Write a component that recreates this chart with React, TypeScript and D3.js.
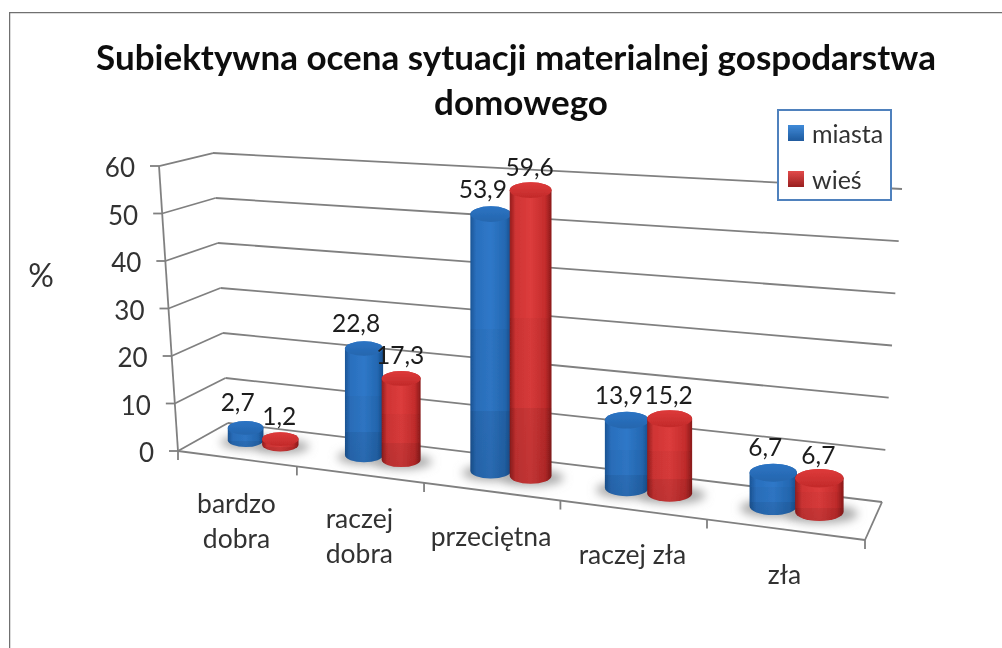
import React from 'react';
import * as d3 from 'd3';

const categories = [['bardzo', 'dobra'], ['raczej', 'dobra'], ['przeciętna'], ['raczej zła'], ['zła']];
const miasta = [2.7, 22.8, 53.9, 13.9, 6.7];
const wies = [1.2, 17.3, 59.6, 15.2, 6.7];
const yTicks = [0, 10, 20, 30, 40, 50, 60];
const titleLines = ['Subiektywna ocena sytuacji materialnej gospodarstwa', 'domowego'];

const seriesList = [
  { name: 'miasta', values: miasta, key: 'blue', du: -0.15, labelDx: -8, labelDy: -26 },
  { name: 'wieś', values: wies, key: 'red', du: 0.15, labelDx: -1, labelDy: -24 }
];

const font = 'Lato, "Open Sans", sans-serif';
const gridColor = '#808080';

// perspective along the category axis: later categories get wider
const xNorm = d3.scaleLinear().domain([0, categories.length]).range([0, 1]);
const depth = (u: number) => {
  const x = xNorm(u);
  return (x * (1 - 0.163)) / (1 - 0.163 * x);
};

// floor edges
const frontX = d3.scaleLinear().domain([0, 1]).range([178, 865]);
const frontY = d3.scaleLinear().domain([0, 1]).range([451, 540]);
const backX = d3.scaleLinear().domain([0, 1]).range([228, 882]);
const backY = d3.scaleLinear().domain([0, 1]).range([423, 502]);

// value axis on the three wall edges
const axisX = d3.scaleLinear().domain([0, 60]).range([178, 159]);
const axisY = d3.scaleLinear().domain([0, 60]).range([451, 166]);
const wallLeftX = d3.scaleLinear().domain([0, 60]).range([228, 213]);
const wallLeftY = d3.scaleLinear().domain([0, 60]).range([423, 153]);
const wallRightX = d3.scaleLinear().domain([0, 60]).range([882, 902]);
const wallRightY = d3.scaleLinear().domain([0, 60]).range([502, 189]);

// pixels per unit of value, along the wall
const unit = d3.scaleLinear().domain([0, 1]).range([4.55, 5.05]);

const floorPoint = (u: number, v: number) => {
  const t = depth(u);
  return [
    d3.interpolateNumber(frontX(t), backX(t))(v),
    d3.interpolateNumber(frontY(t), backY(t))(v)
  ];
};

const sideStops = {
  blue: ['#1b5596', '#2a6fbd', '#2f78c8', '#2468b2', '#174c8a'],
  red: ['#931d1d', '#cf3434', '#dc3c3c', '#c42c2c', '#8a1a1a']
};
const topStops = {
  blue: ['#2c74c4', '#2566ae'],
  red: ['#de3a3a', '#c22a2a']
};

function Cylinder({ series, i }: any) {
  const u = i + 0.5 + series.du;
  const [cx, by] = floorPoint(u, 0.56);
  const [xEdge] = floorPoint(u + 0.155, 0.56);
  const r = xEdge - cx;
  const ry = r * 0.38;
  const top = by - series.values[i] * unit(depth(u));
  const side = `M${cx - r},${top}L${cx - r},${by}A${r},${ry} 0 0 0 ${cx + r},${by}L${cx + r},${top}A${r},${ry} 0 0 0 ${cx - r},${top}Z`;
  return (
    <g>
      <path d={side} fill={`url(#side-${series.key})`} />
      <path d={side} fill="url(#bands)" />
      <ellipse cx={cx} cy={top} rx={r} ry={ry} fill={`url(#top-${series.key})`} />
      <text
        x={cx + series.labelDx}
        y={top + series.labelDy}
        textAnchor="middle"
        dominantBaseline="central"
        fontSize={24.5}
        fill="#1c1c1c"
      >
        {d3.format('.1f')(series.values[i]).replace('.', ',')}
      </text>
    </g>
  );
}

function Shadow({ series, i }: any) {
  const u = i + 0.5 + series.du;
  const [cx, by] = floorPoint(u, 0.56);
  const [xEdge] = floorPoint(u + 0.145, 0.56);
  const r = xEdge - cx;
  return <ellipse cx={cx + r * 0.1} cy={by + 2} rx={r * 1.6} ry={r * 0.42} fill="#aaa" filter="url(#soft)" />;
}

export default function App() {
  const cats = d3.range(categories.length + 1);
  const floor = [0, categories.length].map(u => floorPoint(u, 0));
  const floorBack = [0, categories.length].map(u => floorPoint(u, 1));

  return (
    <svg
      width={1002}
      height={648}
      style={{ position: 'absolute', left: 0, top: 0, background: '#fff' }}
      fontFamily={font}
    >
      <defs>
        {seriesList.map(s => (
          <React.Fragment key={s.key}>
            <linearGradient id={`side-${s.key}`} x1="0" x2="1" y1="0" y2="0">
              {sideStops[s.key].map((c, k) => (
                <stop key={k} offset={[0, 0.14, 0.5, 0.85, 1][k]} stopColor={c} />
              ))}
            </linearGradient>
            <linearGradient id={`top-${s.key}`} x1="0" x2="0" y1="0" y2="1">
              {topStops[s.key].map((c, k) => (
                <stop key={k} offset={k} stopColor={c} />
              ))}
            </linearGradient>
            <linearGradient id={`swatch-${s.key}`} x1="0" x2="0" y1="0" y2="1">
              <stop offset="0" stopColor={s.key === 'blue' ? '#3f8ad8' : '#e24a4a'} />
              <stop offset="1" stopColor={s.key === 'blue' ? '#1f5a9e' : '#992020'} />
            </linearGradient>
          </React.Fragment>
        ))}
        <linearGradient id="bands" x1="0" x2="0" y1="0" y2="1">
          <stop offset="0" stopColor="#000" stopOpacity="0" />
          <stop offset="0.45" stopColor="#000" stopOpacity="0" />
          <stop offset="0.45" stopColor="#000" stopOpacity="0.03" />
          <stop offset="0.75" stopColor="#000" stopOpacity="0.03" />
          <stop offset="0.75" stopColor="#000" stopOpacity="0.09" />
          <stop offset="1" stopColor="#000" stopOpacity="0.12" />
        </linearGradient>
        <filter id="soft" x="-50%" y="-100%" width="200%" height="300%">
          <feGaussianBlur stdDeviation="5" />
        </filter>
        <filter id="scan" x="0" y="0" width="100%" height="100%">
          <feGaussianBlur stdDeviation="0.45" />
        </filter>
      </defs>

      <g filter="url(#scan)">
        {/* outer frame */}
        <path d="M1002,12H9V648" fill="none" stroke="#6f6f6f" strokeWidth={2.5} />

        {titleLines.map((line, i) => (
          <text key={line} x={i === 0 ? 516 : 521} y={70 + i * 45} textAnchor="middle" fontSize={35} fontWeight={700} fill="#111">
            {line}
          </text>
        ))}

        <text x={41} y={274} textAnchor="middle" dominantBaseline="central" fontSize={32} fill="#333">%</text>

        {/* walls */}
        <g stroke={gridColor} strokeWidth={1.8} fill="none">
          {yTicks.map(v => (
            <g key={v}>
              <line x1={axisX(v) - 9} y1={axisY(v)} x2={axisX(v)} y2={axisY(v)} />
              <line x1={axisX(v)} y1={axisY(v)} x2={wallLeftX(v)} y2={wallLeftY(v)} />
              <line x1={wallLeftX(v)} y1={wallLeftY(v)} x2={wallRightX(v)} y2={wallRightY(v)} />
            </g>
          ))}
          <line x1={axisX(0)} y1={axisY(0)} x2={axisX(60)} y2={axisY(60)} />
          <line x1={floor[0][0]} y1={floor[0][1]} x2={floor[1][0]} y2={floor[1][1]} />
          <line x1={floor[1][0]} y1={floor[1][1]} x2={floorBack[1][0]} y2={floorBack[1][1]} />
          {cats.map(u => {
            const [x, y] = floorPoint(u, 0);
            return <line key={u} x1={x} y1={y} x2={x} y2={y + 9} />;
          })}
        </g>

        {yTicks.map(v => (
          <text key={v} x={axisX(v) - 24} y={axisY(v) + 1} textAnchor="end" dominantBaseline="central" fontSize={26} fill="#333">
            {v}
          </text>
        ))}

        {categories.map((_, i) => seriesList.map(s => <Shadow key={s.key + i} series={s} i={i} />))}
        {categories.map((_, i) => seriesList.map(s => <Cylinder key={s.key + i} series={s} i={i} />))}

        {categories.map((lines, i) => {
          const [x, y] = floorPoint(i + 0.5, 0);
          return lines.map((line, k) => (
            <text key={line} x={x} y={y + 44 + k * 35} textAnchor="middle" dominantBaseline="central" fontSize={26.5} fill="#333">
              {line}
            </text>
          ));
        })}

        {/* legend */}
        <g>
          <rect x={778} y={110} width={113} height={90} fill="#fff" stroke="#4f81bd" strokeWidth={2} />
          {seriesList.map((s, i) => (
            <g key={s.key} transform={`translate(788,${125 + i * 46})`}>
              <rect width={16} height={16} fill={`url(#swatch-${s.key})`} />
              <text x={24} y={8} dominantBaseline="central" fontSize={25} fill="#333">{s.name}</text>
            </g>
          ))}
        </g>
      </g>
    </svg>
  );
}
